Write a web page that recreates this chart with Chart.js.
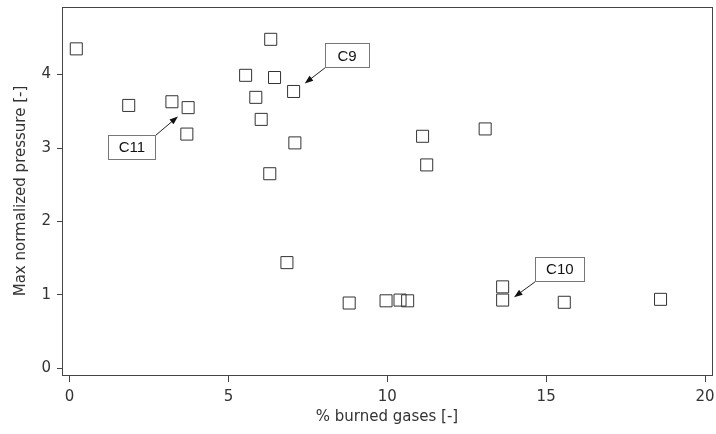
<!DOCTYPE html>
<html>
<head>
<meta charset="utf-8">
<script src="https://cdn.jsdelivr.net/npm/chart.js@4/dist/chart.umd.min.js"></script>
<style>
  html, body { margin: 0; padding: 0; background: #fff; }
  #wrap { width: 716px; height: 434px; position: relative; }
</style>
</head>
<body>
<div id="wrap"><canvas id="chart"></canvas></div>
<script>
// burned gases [%] vs max normalized pressure, one square per case
const burnedGases = [0.21, 1.86, 3.22, 3.73, 3.69, 5.54, 6.33, 6.45, 5.86, 7.05, 6.03, 7.09, 6.30,
                     6.84, 8.80, 9.96, 10.40, 10.64, 11.11, 11.24, 13.08, 13.63, 13.63, 15.57, 18.60];
const maxPressure = [4.35, 3.58, 3.63, 3.55, 3.19, 3.99, 4.48, 3.96, 3.69, 3.77, 3.39, 3.07, 2.65,
                     1.44, 0.89, 0.92, 0.93, 0.92, 3.16, 2.77, 3.26, 1.11, 0.93, 0.90, 0.94];

const xTicks = [0, 5, 10, 15, 20];
const yTicks = [0, 1, 2, 3, 4];

// case labels: box centre and arrow tip, in data units
const noteLabels = ['C9', 'C10', 'C11'];
const noteBoxX = [8.73, 15.43, 1.96];
const noteBoxY = [4.26, 1.35, 3.02];
const noteTipX = [7.40, 13.99, 3.41];
const noteTipY = [3.88, 0.97, 3.43];

const points = burnedGases.map((x, i) => ({x: x, y: maxPressure[i]}));

const FONT = '"DejaVu Sans", sans-serif';

function arrow(ctx, x0, y0, x1, y1) {
    var a = Math.atan2(y1 - y0, x1 - x0);
    var len = 9;
    ctx.beginPath();
    ctx.moveTo(x0, y0);
    ctx.lineTo(x1 - Math.cos(a) * len * 0.8, y1 - Math.sin(a) * len * 0.8);
    ctx.stroke();
    ctx.beginPath();
    ctx.moveTo(x1, y1);
    ctx.lineTo(x1 - len * Math.cos(a - 0.35), y1 - len * Math.sin(a - 0.35));
    ctx.lineTo(x1 - len * Math.cos(a + 0.35), y1 - len * Math.sin(a + 0.35));
    ctx.closePath();
    ctx.fill();
}

// chart.js pads the area for edge tick labels; the ticks here sit inside, so drop it
function noPad(s) {
    s.paddingLeft = 0;
    s.paddingRight = 0;
    s.paddingTop = 0;
    s.paddingBottom = 0;
}

const framePlugin = {
    id: 'frame',
    afterDraw(chart) {
        const ctx = chart.ctx;
        const a = chart.chartArea;
        ctx.save();
        ctx.strokeStyle = '#444';
        ctx.lineWidth = 1;
        ctx.strokeRect(Math.round(a.left) + 0.5, Math.round(a.top) + 0.5,
                       Math.round(a.right - a.left), Math.round(a.bottom - a.top));
        ctx.restore();
    }
};

const notesPlugin = {
    id: 'notes',
    afterDraw(chart) {
        const ctx = chart.ctx;
        const xs = chart.scales.x, ys = chart.scales.y;
        ctx.save();
        ctx.font = '15px "Liberation Sans", Arial, sans-serif';
        ctx.textAlign = 'center';
        ctx.textBaseline = 'middle';
        noteLabels.forEach((label, i) => {
            const cx = xs.getPixelForValue(noteBoxX[i]);
            const cy = ys.getPixelForValue(noteBoxY[i]);
            const tx = xs.getPixelForValue(noteTipX[i]);
            const ty = ys.getPixelForValue(noteTipY[i]);
            const w = Math.max(44, Math.round(ctx.measureText(label).width + 21));
            const h = 24;
            const left = Math.round(cx - w / 2) + 0.5, top = Math.round(cy - h / 2) + 0.5;
            // arrow starts at the box corner nearest the tip
            const sx = tx < cx ? left : left + w;
            const sy = ty > cy ? top + h : top;
            ctx.strokeStyle = '#222';
            ctx.fillStyle = '#111';
            ctx.lineWidth = 1;
            arrow(ctx, sx, sy, tx, ty);
            ctx.fillStyle = '#fff';
            ctx.fillRect(left, top, w, h);
            ctx.strokeStyle = '#777';
            ctx.strokeRect(left, top, w, h);
            ctx.fillStyle = '#111';
            ctx.fillText(label, cx, cy + 1);
        });
        ctx.restore();
    }
};

new Chart(document.getElementById('chart'), {
    type: 'scatter',
    data: {
        datasets: [{
            data: points,
            pointStyle: 'rect',
            pointRadius: 8.5,
            pointHoverRadius: 8.5,
            borderColor: '#333',
            backgroundColor: 'rgba(255,255,255,0)',
            borderWidth: 1
        }]
    },
    options: {
        responsive: true,
        maintainAspectRatio: false,
        animation: false,
        layout: {autoPadding: false, padding: {top: 7, right: 4, left: 0, bottom: 0}},
        plugins: {legend: {display: false}, tooltip: {enabled: false}},
        scales: {
            x: {
                type: 'linear',
                min: -0.24,
                max: 20.22,
                afterBuildTicks: s => { s.ticks = xTicks.map(v => ({value: v})); },
                afterFit: s => { s.height = 59; noPad(s); },
                grid: {drawOnChartArea: false, tickLength: 7, color: '#444'},
                border: {color: '#333'},
                ticks: {color: '#333', padding: 6, maxRotation: 0, font: {family: FONT, size: 15}},
                title: {display: true, text: '% burned gases [-]', color: '#333',
                        padding: {top: 0, bottom: 8}, font: {family: FONT, size: 15}}
            },
            y: {
                type: 'linear',
                min: -0.09,
                max: 4.92,
                afterBuildTicks: s => { s.ticks = yTicks.map(v => ({value: v})); },
                afterFit: s => { s.width = 62; noPad(s); },
                grid: {drawOnChartArea: false, tickLength: 5, color: '#444'},
                border: {color: '#333'},
                ticks: {color: '#333', padding: 6, font: {family: FONT, size: 15}},
                title: {display: true, text: 'Max normalized pressure [-]', color: '#333',
                        padding: {top: 12, bottom: 0}, font: {family: FONT, size: 15}}
            }
        }
    },
    plugins: [framePlugin, notesPlugin]
});
</script>
</body>
</html>
